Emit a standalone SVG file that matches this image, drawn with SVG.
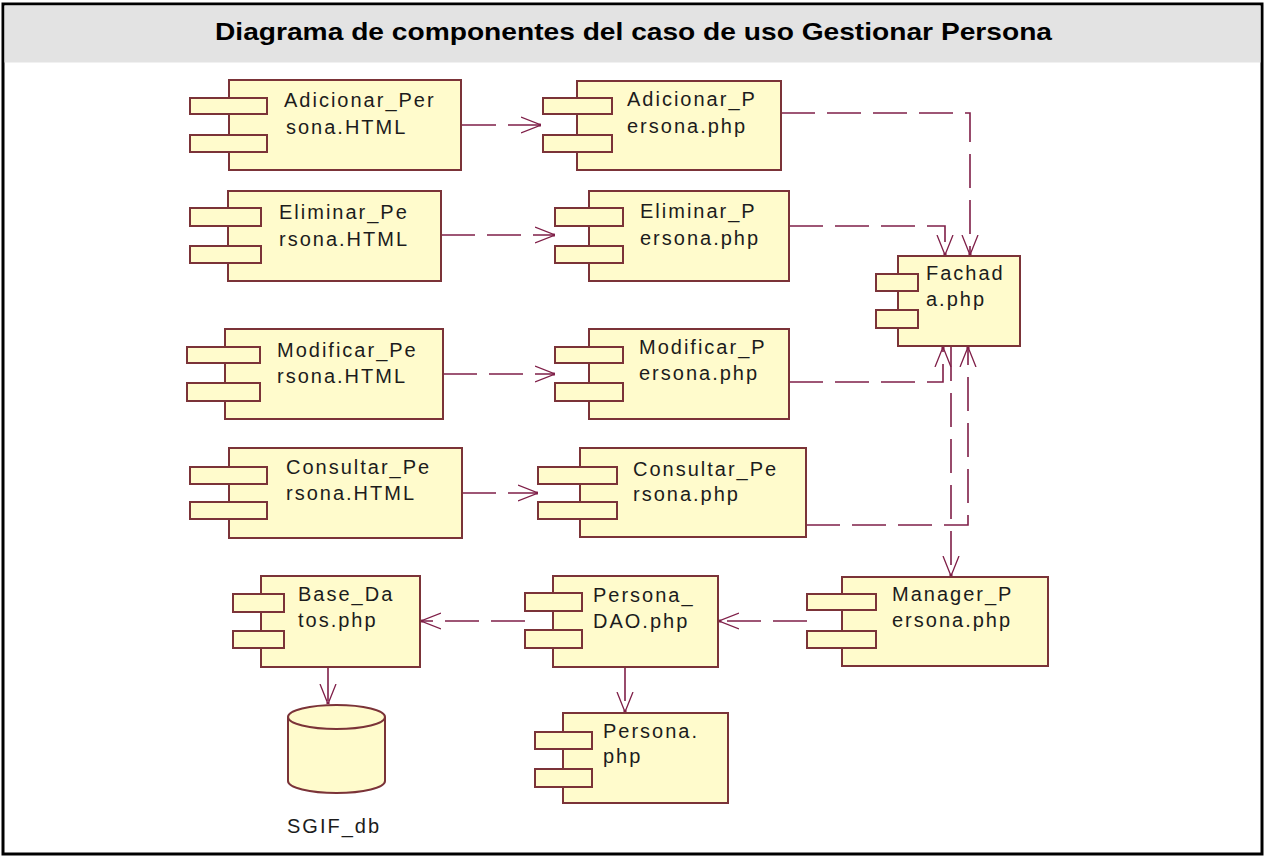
<svg xmlns="http://www.w3.org/2000/svg" width="1269" height="858" viewBox="0 0 1269 858">
  <style>
    .frame { fill: #ffffff; stroke: #000000; stroke-width: 3; }
    .header { fill: #e3e3e3; }
    .title { font-family: "Liberation Sans", Arial, sans-serif; font-weight: bold; font-size: 24px; fill: #000000; }
    .body { fill: #fffbcc; stroke: #7b3338; stroke-width: 2; }
    .port { fill: #fffbcc; stroke: #7b3338; stroke-width: 2; }
    .lbl { font-family: "Liberation Sans", Arial, sans-serif; font-size: 20px; letter-spacing: 2px; fill: #1c1c1c; }
    .dep { fill: none; stroke: #7f1f48; stroke-width: 1.6; stroke-dasharray: 34 12; }
    .head { fill: none; stroke: #7f1f48; stroke-width: 1.3; }
  </style>
  <defs>
    <marker id="open" viewBox="0 0 20 18" refX="20" refY="9" markerWidth="20" markerHeight="18" markerUnits="userSpaceOnUse" orient="auto">
      <path class="head" d="M0,1 L20,9 L0,17"/>
      <circle cx="19" cy="9" r="1.6" fill="#7f1f48"/>
    </marker>
  </defs>

  <!-- outer frame and title band -->
  <rect class="frame" x="3" y="4" width="1259" height="850"/>
  <rect class="header" x="4.5" y="5.5" width="1256" height="57"/>
  <text class="title" x="215" y="40" textLength="837" lengthAdjust="spacingAndGlyphs">Diagrama de componentes del caso de uso Gestionar Persona</text>

  <!-- dependencies -->
  <g id="connectors">
    <path class="dep" d="M462,125 H541" marker-end="url(#open)"/>
    <path class="dep" d="M441,235 H555" marker-end="url(#open)"/>
    <path class="dep" d="M443,374 H555" marker-end="url(#open)"/>
    <path class="dep" d="M462,493 H538" marker-end="url(#open)"/>
    <path class="dep" d="M781,113 H970 V255" marker-end="url(#open)"/>
    <path class="dep" d="M789,226 H945 V255" marker-end="url(#open)"/>
    <path class="dep" d="M789,382 H943 V347" marker-end="url(#open)"/>
    <path class="dep" d="M806,525 H968 V347" marker-end="url(#open)"/>
    <path class="dep" d="M951,347 V576" marker-end="url(#open)"/>
    <path class="dep" d="M807,621 H719" marker-end="url(#open)"/>
    <path class="dep" d="M525,621 H421" marker-end="url(#open)"/>
    <path class="dep" d="M625,667 V712" marker-end="url(#open)"/>
    <path class="dep" d="M328,667 V704" marker-end="url(#open)"/>
  </g>

  <!-- components -->
  <g id="adicionar-html">
    <rect class="body" x="229" y="80" width="232" height="90"/>
    <rect class="port" x="190" y="98" width="77" height="16"/>
    <rect class="port" x="190" y="135" width="77" height="17"/>
    <text class="lbl" x="284" y="107">Adicionar_Per</text>
    <text class="lbl" x="286" y="134">sona.HTML</text>
  </g>
  <g id="adicionar-php">
    <rect class="body" x="577" y="81" width="204" height="89"/>
    <rect class="port" x="543" y="98" width="69" height="16"/>
    <rect class="port" x="543" y="135" width="69" height="17"/>
    <text class="lbl" x="627" y="106">Adicionar_P</text>
    <text class="lbl" x="627" y="133">ersona.php</text>
  </g>

  <g id="eliminar-html">
    <rect class="body" x="228" y="191" width="213" height="90"/>
    <rect class="port" x="190" y="208" width="71" height="18"/>
    <rect class="port" x="190" y="246" width="71" height="17"/>
    <text class="lbl" x="279" y="219">Eliminar_Pe</text>
    <text class="lbl" x="279" y="246">rsona.HTML</text>
  </g>
  <g id="eliminar-php">
    <rect class="body" x="589" y="191" width="200" height="90"/>
    <rect class="port" x="555" y="208" width="68" height="18"/>
    <rect class="port" x="555" y="246" width="68" height="17"/>
    <text class="lbl" x="640" y="218">Eliminar_P</text>
    <text class="lbl" x="640" y="245">ersona.php</text>
  </g>

  <g id="fachada">
    <rect class="body" x="898" y="256" width="122" height="90"/>
    <rect class="port" x="876" y="274" width="42" height="17"/>
    <rect class="port" x="876" y="310" width="42" height="18"/>
    <text class="lbl" x="926" y="280">Fachad</text>
    <text class="lbl" x="926" y="306">a.php</text>
  </g>

  <g id="modificar-html">
    <rect class="body" x="225" y="329" width="218" height="90"/>
    <rect class="port" x="187" y="347" width="73" height="16"/>
    <rect class="port" x="187" y="383" width="73" height="18"/>
    <text class="lbl" x="277" y="357">Modificar_Pe</text>
    <text class="lbl" x="277" y="383">rsona.HTML</text>
  </g>
  <g id="modificar-php">
    <rect class="body" x="589" y="329" width="200" height="90"/>
    <rect class="port" x="555" y="347" width="68" height="16"/>
    <rect class="port" x="555" y="383" width="68" height="18"/>
    <text class="lbl" x="639" y="354">Modificar_P</text>
    <text class="lbl" x="639" y="380">ersona.php</text>
  </g>

  <g id="consultar-html">
    <rect class="body" x="229" y="448" width="233" height="90"/>
    <rect class="port" x="190" y="467" width="77" height="17"/>
    <rect class="port" x="190" y="502" width="77" height="17"/>
    <text class="lbl" x="286" y="474">Consultar_Pe</text>
    <text class="lbl" x="286" y="500">rsona.HTML</text>
  </g>
  <g id="consultar-php">
    <rect class="body" x="580" y="448" width="226" height="89"/>
    <rect class="port" x="538" y="467" width="79" height="17"/>
    <rect class="port" x="538" y="502" width="79" height="17"/>
    <text class="lbl" x="633" y="476">Consultar_Pe</text>
    <text class="lbl" x="633" y="501">rsona.php</text>
  </g>

  <g id="manager">
    <rect class="body" x="842" y="577" width="206" height="89"/>
    <rect class="port" x="807" y="594" width="69" height="16"/>
    <rect class="port" x="807" y="631" width="69" height="17"/>
    <text class="lbl" x="892" y="601">Manager_P</text>
    <text class="lbl" x="892" y="627">ersona.php</text>
  </g>

  <g id="persona-dao">
    <rect class="body" x="553" y="576" width="165" height="91"/>
    <rect class="port" x="525" y="593" width="57" height="18"/>
    <rect class="port" x="525" y="630" width="57" height="18"/>
    <text class="lbl" x="593" y="602">Persona_</text>
    <text class="lbl" x="593" y="628">DAO.php</text>
  </g>

  <g id="base-datos">
    <rect class="body" x="261" y="576" width="159" height="91"/>
    <rect class="port" x="233" y="594" width="51" height="18"/>
    <rect class="port" x="233" y="631" width="51" height="17"/>
    <text class="lbl" x="298" y="601">Base_Da</text>
    <text class="lbl" x="298" y="627">tos.php</text>
  </g>

  <g id="persona">
    <rect class="body" x="563" y="713" width="165" height="90"/>
    <rect class="port" x="535" y="732" width="57" height="17"/>
    <rect class="port" x="535" y="769" width="57" height="18"/>
    <text class="lbl" x="603" y="738">Persona.</text>
    <text class="lbl" x="603" y="763">php</text>
  </g>

  <g id="sgif-db">
    <path class="body" d="M288,717 V781 A48.5,12 0 0 0 385,781 V717"/>
    <ellipse class="body" cx="336.5" cy="717" rx="48.5" ry="12"/>
    <text class="lbl" x="287" y="833">SGIF_db</text>
  </g>
</svg>
